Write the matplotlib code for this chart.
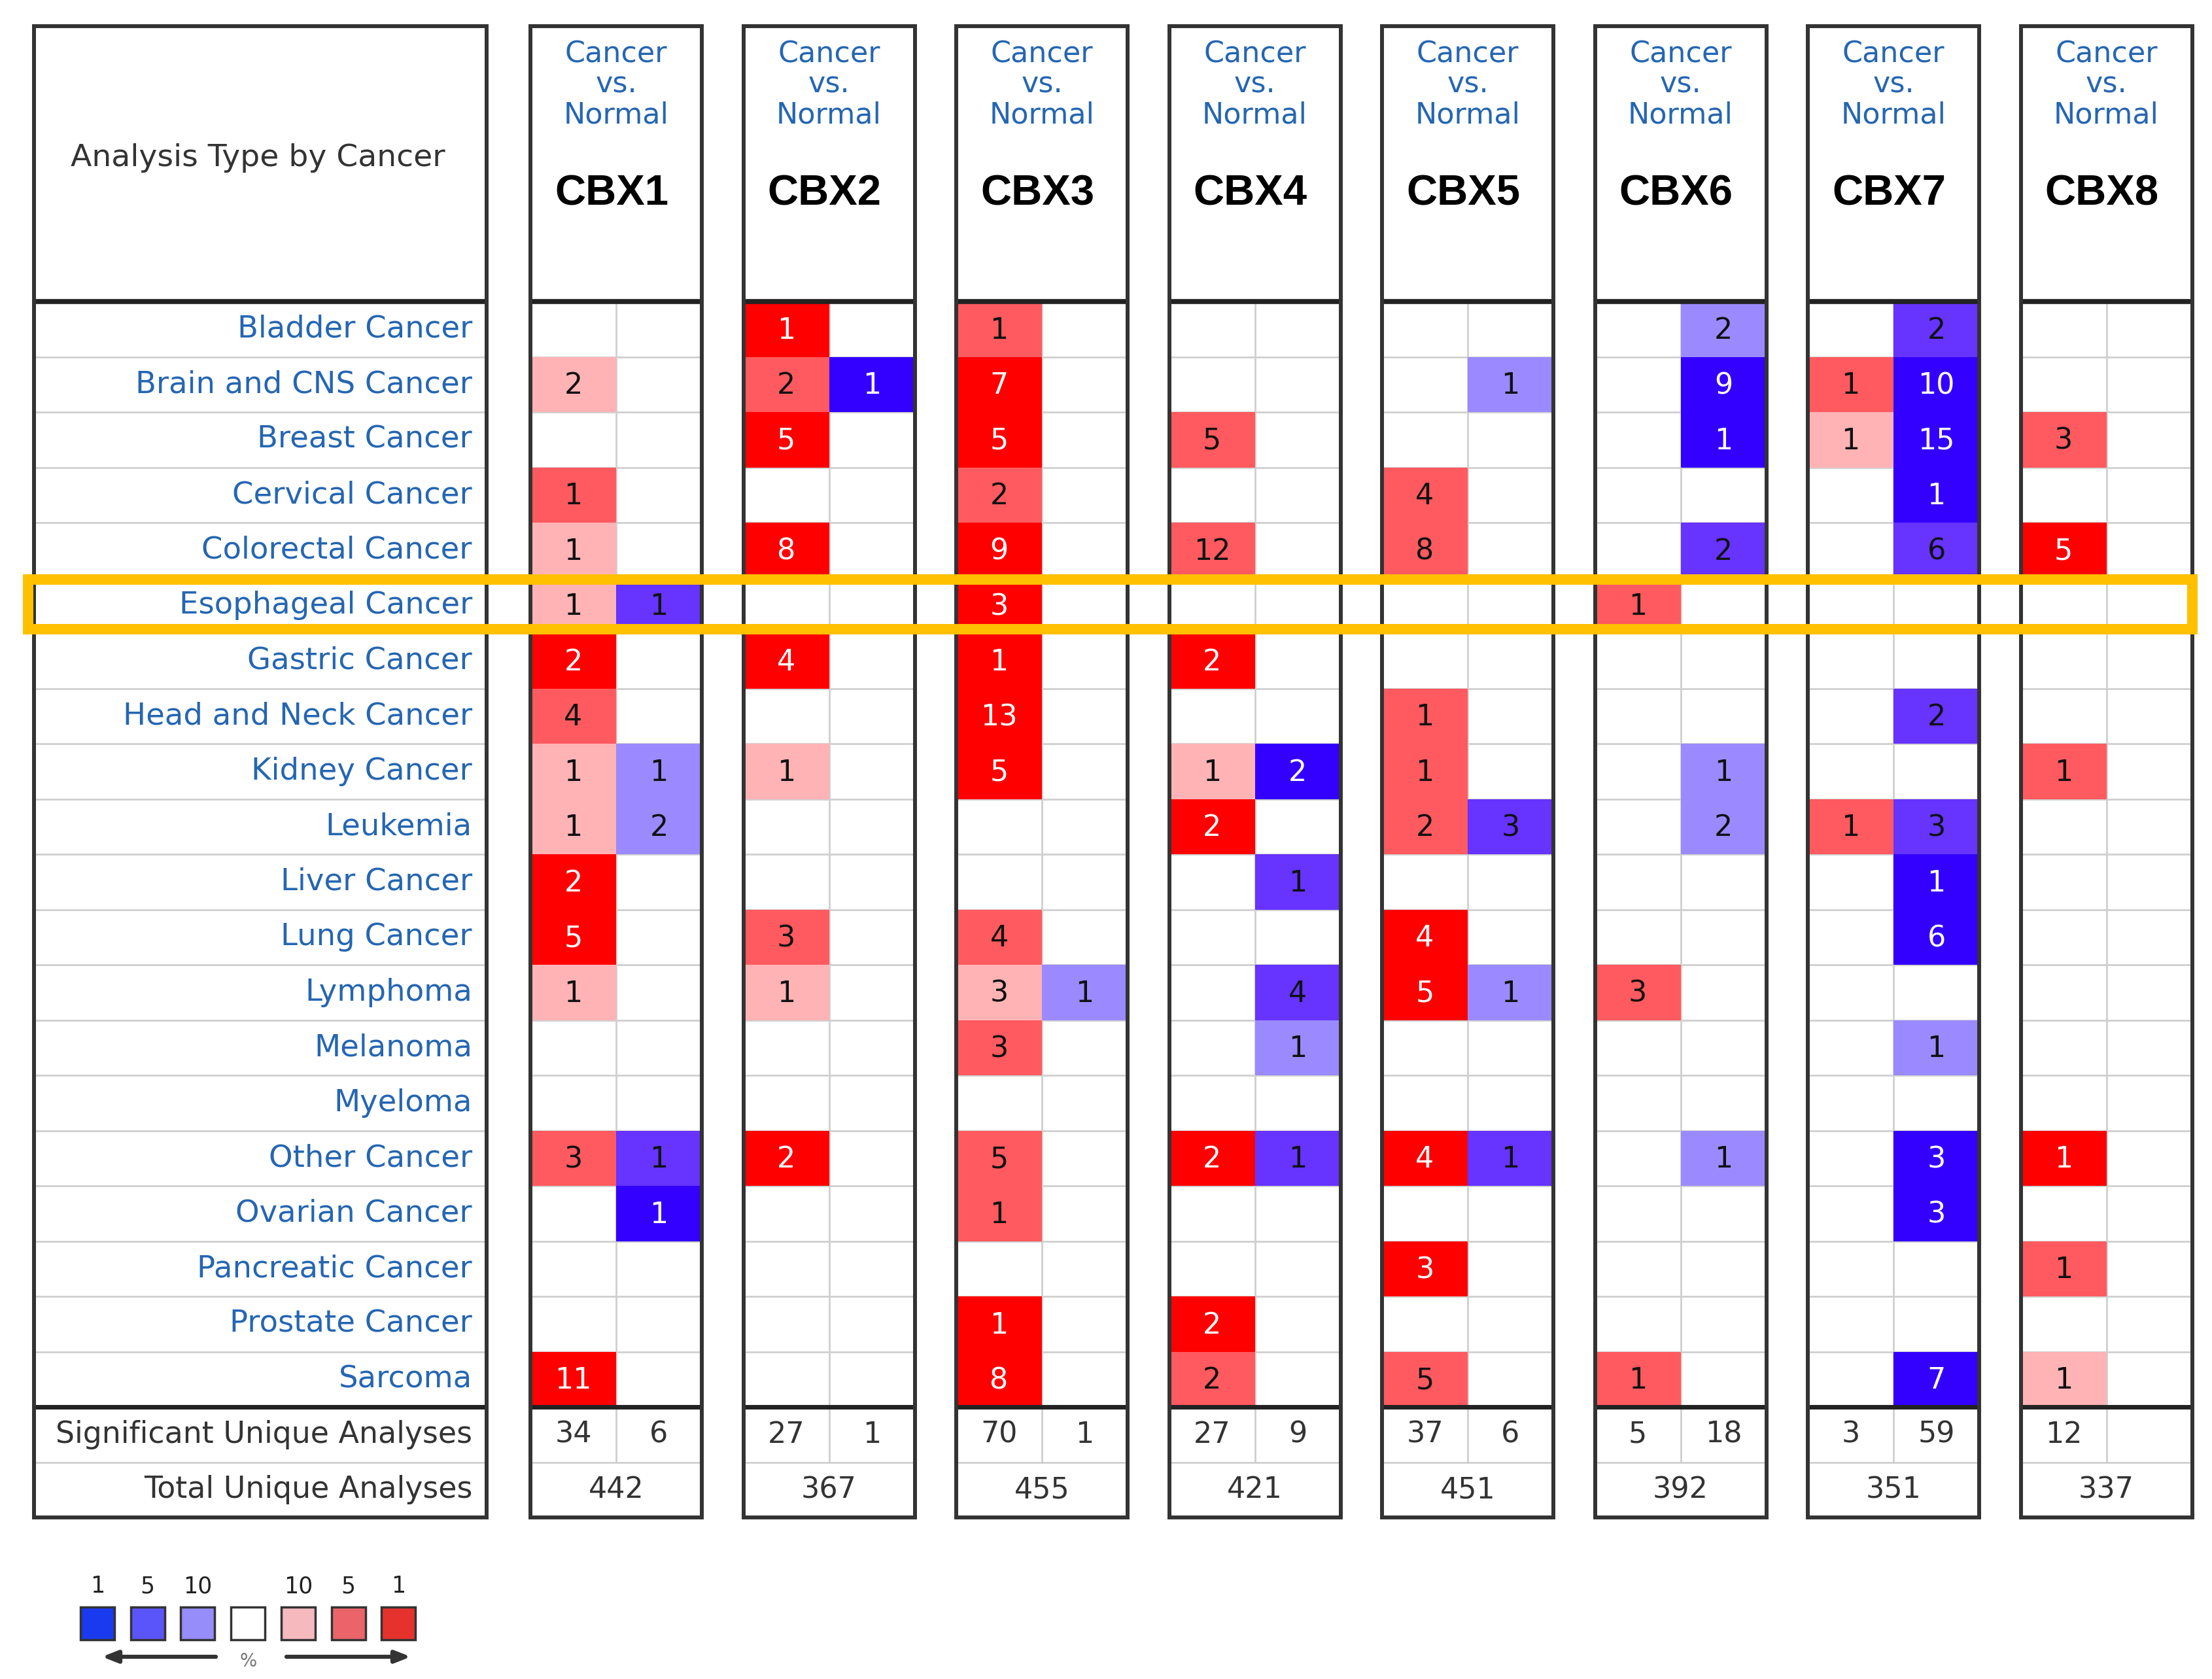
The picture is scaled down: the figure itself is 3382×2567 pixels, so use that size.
import matplotlib.pyplot as plt
from matplotlib.patches import Rectangle

# ---- data ----
cancers = ['Bladder Cancer', 'Brain and CNS Cancer', 'Breast Cancer', 'Cervical Cancer',
           'Colorectal Cancer', 'Esophageal Cancer', 'Gastric Cancer', 'Head and Neck Cancer',
           'Kidney Cancer', 'Leukemia', 'Liver Cancer', 'Lung Cancer', 'Lymphoma',
           'Melanoma', 'Myeloma', 'Other Cancer', 'Ovarian Cancer', 'Pancreatic Cancer',
           'Prostate Cancer', 'Sarcoma']
genes = ['CBX1', 'CBX2', 'CBX3', 'CBX4', 'CBX5', 'CBX6', 'CBX7', 'CBX8']

# number of up-regulated analyses (red), one row per cancer, one column per gene
up_counts = [
    [0, 1, 1, 0, 0, 0, 0, 0],
    [2, 2, 7, 0, 0, 0, 1, 0],
    [0, 5, 5, 5, 0, 0, 1, 3],
    [1, 0, 2, 0, 4, 0, 0, 0],
    [1, 8, 9, 12, 8, 0, 0, 5],
    [1, 0, 3, 0, 0, 1, 0, 0],
    [2, 4, 1, 2, 0, 0, 0, 0],
    [4, 0, 13, 0, 1, 0, 0, 0],
    [1, 1, 5, 1, 1, 0, 0, 1],
    [1, 0, 0, 2, 2, 0, 1, 0],
    [2, 0, 0, 0, 0, 0, 0, 0],
    [5, 3, 4, 0, 4, 0, 0, 0],
    [1, 1, 3, 0, 5, 3, 0, 0],
    [0, 0, 3, 0, 0, 0, 0, 0],
    [0, 0, 0, 0, 0, 0, 0, 0],
    [3, 2, 5, 2, 4, 0, 0, 1],
    [0, 0, 1, 0, 0, 0, 0, 0],
    [0, 0, 0, 0, 3, 0, 0, 1],
    [0, 0, 1, 2, 0, 0, 0, 0],
    [11, 0, 8, 2, 5, 1, 0, 1],
]
# gene rank shade: 1 = top 10%, 2 = top 5%, 3 = top 1%
up_shade = [
    [0, 3, 2, 0, 0, 0, 0, 0],
    [1, 2, 3, 0, 0, 0, 2, 0],
    [0, 3, 3, 2, 0, 0, 1, 2],
    [2, 0, 2, 0, 2, 0, 0, 0],
    [1, 3, 3, 2, 2, 0, 0, 3],
    [1, 0, 3, 0, 0, 2, 0, 0],
    [3, 3, 3, 3, 0, 0, 0, 0],
    [2, 0, 3, 0, 2, 0, 0, 0],
    [1, 1, 3, 1, 2, 0, 0, 2],
    [1, 0, 0, 3, 2, 0, 2, 0],
    [3, 0, 0, 0, 0, 0, 0, 0],
    [3, 2, 2, 0, 3, 0, 0, 0],
    [1, 1, 1, 0, 3, 2, 0, 0],
    [0, 0, 2, 0, 0, 0, 0, 0],
    [0, 0, 0, 0, 0, 0, 0, 0],
    [2, 3, 2, 3, 3, 0, 0, 3],
    [0, 0, 2, 0, 0, 0, 0, 0],
    [0, 0, 0, 0, 3, 0, 0, 2],
    [0, 0, 3, 3, 0, 0, 0, 0],
    [3, 0, 3, 2, 2, 2, 0, 1],
]
# down-regulated analyses (blue)
down_counts = [
    [0, 0, 0, 0, 0, 2, 2, 0],
    [0, 1, 0, 0, 1, 9, 10, 0],
    [0, 0, 0, 0, 0, 1, 15, 0],
    [0, 0, 0, 0, 0, 0, 1, 0],
    [0, 0, 0, 0, 0, 2, 6, 0],
    [1, 0, 0, 0, 0, 0, 0, 0],
    [0, 0, 0, 0, 0, 0, 0, 0],
    [0, 0, 0, 0, 0, 0, 2, 0],
    [1, 0, 0, 2, 0, 1, 0, 0],
    [2, 0, 0, 0, 3, 2, 3, 0],
    [0, 0, 0, 1, 0, 0, 1, 0],
    [0, 0, 0, 0, 0, 0, 6, 0],
    [0, 0, 1, 4, 1, 0, 0, 0],
    [0, 0, 0, 1, 0, 0, 1, 0],
    [0, 0, 0, 0, 0, 0, 0, 0],
    [1, 0, 0, 1, 1, 1, 3, 0],
    [1, 0, 0, 0, 0, 0, 3, 0],
    [0, 0, 0, 0, 0, 0, 0, 0],
    [0, 0, 0, 0, 0, 0, 0, 0],
    [0, 0, 0, 0, 0, 0, 7, 0],
]
down_shade = [
    [0, 0, 0, 0, 0, 1, 2, 0],
    [0, 3, 0, 0, 1, 3, 3, 0],
    [0, 0, 0, 0, 0, 3, 3, 0],
    [0, 0, 0, 0, 0, 0, 3, 0],
    [0, 0, 0, 0, 0, 2, 2, 0],
    [2, 0, 0, 0, 0, 0, 0, 0],
    [0, 0, 0, 0, 0, 0, 0, 0],
    [0, 0, 0, 0, 0, 0, 2, 0],
    [1, 0, 0, 3, 0, 1, 0, 0],
    [1, 0, 0, 0, 2, 1, 2, 0],
    [0, 0, 0, 2, 0, 0, 3, 0],
    [0, 0, 0, 0, 0, 0, 3, 0],
    [0, 0, 1, 2, 1, 0, 0, 0],
    [0, 0, 0, 1, 0, 0, 1, 0],
    [0, 0, 0, 0, 0, 0, 0, 0],
    [2, 0, 0, 2, 2, 1, 3, 0],
    [3, 0, 0, 0, 0, 0, 3, 0],
    [0, 0, 0, 0, 0, 0, 0, 0],
    [0, 0, 0, 0, 0, 0, 0, 0],
    [0, 0, 0, 0, 0, 0, 3, 0],
]
sig_up = [34, 27, 70, 27, 37, 5, 3, 12]
sig_down = [6, 1, 1, 9, 6, 18, 59, None]
total_analyses = [442, 367, 455, 421, 451, 392, 351, 337]
highlight_row = 'Esophageal Cancer'

legend_labels = ['1', '5', '10', '', '10', '5', '1']

# ---- styling ----
RED = {1: '#ffb3b5', 2: '#ff5a5f', 3: '#ff0000'}
BLUE = {1: '#9b8aff', 2: '#6633ff', 3: '#3300ff'}
LEGEND_COLORS = ['#1a3af0', '#5a55fa', '#968cfa', '#ffffff', '#f5b9be', '#eb6469', '#e6322d']
LINK = '#2566b2'
DARK = '#333333'
GRID = '#cfcfcf'
FONT = 'DejaVu Sans'

# layout in pixels (figure is drawn 1:1 in pixel coordinates)
W, H = 3382, 2567
TOP = 40
HDR = 461
RH = 84.5
LBX0, LBX1 = 52, 744
GX0, GSTEP, GW = 811, 325.5, 262
n_rows = len(cancers)
sig_y = HDR + n_rows * RH
tot_y = sig_y + RH
bottom = tot_y + RH

fig = plt.figure(figsize=(W / 100, H / 100), dpi=100)
ax = fig.add_axes([0, 0, 1, 1])
ax.set_xlim(0, W)
ax.set_ylim(H, 0)
ax.axis('off')


def box_lines(x0, x1, split=None):
    # light row separators
    for r in range(1, n_rows):
        y = HDR + r * RH
        ax.plot([x0, x1], [y, y], color=GRID, lw=2, zorder=1)
    ax.plot([x0, x1], [tot_y, tot_y], color=GRID, lw=2, zorder=1)
    if split is not None:
        ax.plot([split, split], [HDR, tot_y], color=GRID, lw=2, zorder=1)
    # heavy separators and outline
    ax.plot([x0, x1], [HDR, HDR], color='#222222', lw=5.5, zorder=4, solid_capstyle='butt')
    ax.plot([x0, x1], [sig_y, sig_y], color='#222222', lw=5, zorder=4, solid_capstyle='butt')
    ax.add_patch(Rectangle((x0, TOP), x1 - x0, bottom - TOP, fill=False,
                           edgecolor=DARK, lw=4.3, zorder=5))


# left label box
box_lines(LBX0, LBX1)
ax.text((LBX0 + LBX1) / 2 - 4, 241, 'Analysis Type by Cancer', ha='center', va='center',
        fontsize=34, color=DARK, family=FONT)
for r, name in enumerate(cancers):
    ax.text(722, HDR + (r + 0.5) * RH, name, ha='right', va='center',
            fontsize=33.5, color=LINK, family=FONT)
ax.text(722, sig_y + RH / 2, 'Significant Unique Analyses', ha='right', va='center',
        fontsize=33, color=DARK, family=FONT)
ax.text(722, tot_y + RH / 2, 'Total Unique Analyses', ha='right', va='center',
        fontsize=33, color=DARK, family=FONT)

# gene boxes
for g, gene in enumerate(genes):
    x0 = GX0 + g * GSTEP
    x1 = x0 + GW
    xm = x0 + GW / 2
    box_lines(x0, x1, split=xm)
    for ty, word in zip([83, 129, 176], ['Cancer', 'vs.', 'Normal']):
        ax.text(xm, ty, word, ha='center', va='center', fontsize=32, color=LINK, family=FONT)
    ax.text(xm - 7, 297, gene, ha='center', va='center', fontsize=47,
            fontweight='bold', color='black', family='Liberation Sans')

    for r in range(n_rows):
        y = HDR + r * RH
        for cx, cnt, shade, pal in [(x0, up_counts[r][g], up_shade[r][g], RED),
                                    (xm, down_counts[r][g], down_shade[r][g], BLUE)]:
            if cnt == 0:
                continue
            ax.add_patch(Rectangle((cx, y), GW / 2, RH, facecolor=pal[shade],
                                   edgecolor='none', zorder=2))
            ax.text(cx + GW / 4, y + RH / 2 + 2, str(cnt), ha='center', va='center',
                    fontsize=32, family=FONT, zorder=3,
                    color='white' if shade == 3 else '#111111')

    ax.text(x0 + GW / 4, sig_y + RH / 2, str(sig_up[g]), ha='center', va='center',
            fontsize=32, color=DARK, family=FONT)
    if sig_down[g] is not None:
        ax.text(xm + GW / 4, sig_y + RH / 2, str(sig_down[g]), ha='center', va='center',
                fontsize=32, color=DARK, family=FONT)
    ax.text(xm, tot_y + RH / 2, str(total_analyses[g]), ha='center', va='center',
            fontsize=32, color=DARK, family=FONT)

# highlighted row
hr = cancers.index(highlight_row)
ax.add_patch(Rectangle((43, HDR + hr * RH + 2), 3352 - 43, RH - 8, fill=False,
                       edgecolor='#ffc000', lw=11.5, zorder=6))

# legend
leg_x0, leg_step, leg_w = 123, 76.7, 52
for i, (lab, col) in enumerate(zip(legend_labels, LEGEND_COLORS)):
    lx = leg_x0 + i * leg_step
    ax.add_patch(Rectangle((lx, 2457), leg_w, 50, facecolor=col, edgecolor=DARK,
                           lw=2.5, zorder=3))
    if lab:
        ax.text(lx + leg_w / 2, 2425, lab, ha='center', va='center', fontsize=25,
                color='#222222', family=FONT)
arrow = dict(arrowstyle='-|>,head_length=1.4,head_width=0.55', color=DARK, lw=4.5,
             shrinkA=0, shrinkB=0)
ax.annotate('', xy=(156, 2533), xytext=(330, 2533), arrowprops=arrow)
ax.annotate('', xy=(628, 2533), xytext=(438, 2533), arrowprops=arrow)
ax.text(380, 2540, '%', ha='center', va='center', fontsize=20, color='#777777', family=FONT)

fig.savefig('out.png', dpi=100)
